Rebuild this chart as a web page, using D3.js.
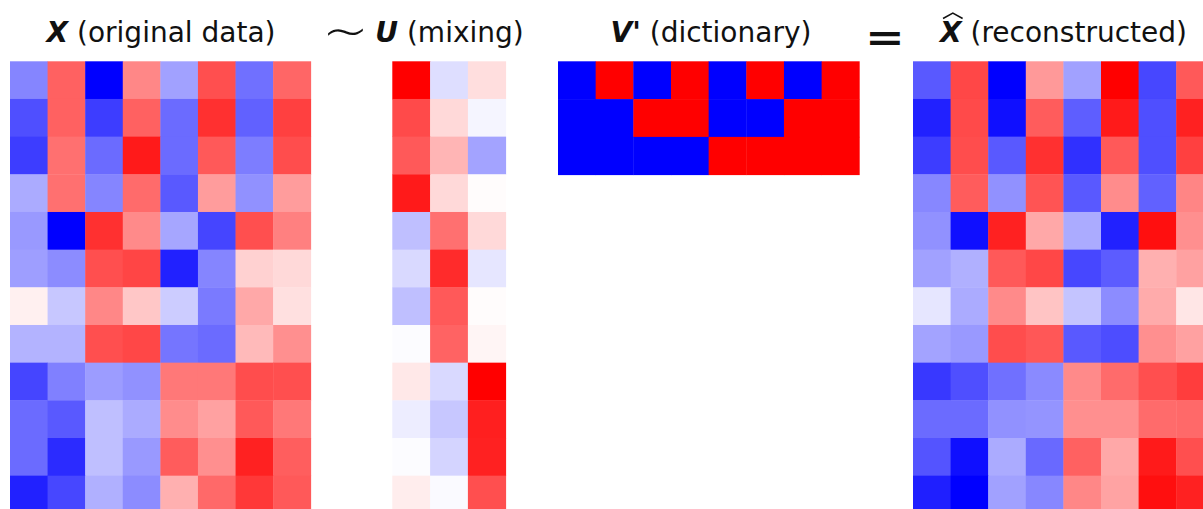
<!DOCTYPE html>
<html><head><meta charset="utf-8">
<script src="https://cdn.jsdelivr.net/npm/d3@7"></script>
<style>body{margin:0;background:#fff}svg{display:block}</style>
</head><body>
<script>
// values in [-1, 1], bwr colormap
const X = [
  [-0.48, 0.62, -1.00, 0.47, -0.37, 0.69, -0.56, 0.60],
  [-0.69, 0.62, -0.76, 0.62, -0.58, 0.81, -0.62, 0.75],
  [-0.76, 0.56, -0.58, 0.90, -0.58, 0.65, -0.51, 0.70],
  [-0.33, 0.56, -0.48, 0.58, -0.65, 0.39, -0.43, 0.39],
  [-0.40, -1.00, 0.81, 0.46, -0.35, -0.73, 0.69, 0.50],
  [-0.38, -0.45, 0.69, 0.73, -0.87, -0.48, 0.18, 0.15],
  [0.06, -0.22, 0.47, 0.22, -0.20, -0.52, 0.34, 0.12],
  [-0.30, -0.30, 0.69, 0.72, -0.54, -0.58, 0.27, 0.44],
  [-0.73, -0.50, -0.39, -0.43, 0.53, 0.53, 0.70, 0.69],
  [-0.58, -0.65, -0.25, -0.33, 0.45, 0.37, 0.65, 0.53],
  [-0.58, -0.83, -0.25, -0.40, 0.64, 0.44, 0.87, 0.63],
  [-0.87, -0.72, -0.31, -0.45, 0.31, 0.59, 0.78, 0.65]
];
const U = [
  [1.00, -0.13, 0.13],
  [0.71, 0.15, -0.04],
  [0.65, 0.29, -0.36],
  [0.90, 0.15, 0.01],
  [-0.25, 0.56, 0.15],
  [-0.15, 0.83, -0.10],
  [-0.25, 0.65, 0.01],
  [-0.01, 0.61, 0.04],
  [0.09, -0.15, 1.00],
  [-0.07, -0.22, 0.88],
  [-0.01, -0.17, 0.87],
  [0.07, -0.02, 0.69]
];
const V = [
  [-1, 1, -1, 1, -1, 1, -1, 1],
  [-1, -1, 1, 1, -1, -1, 1, 1],
  [-1, -1, -1, -1, 1, 1, 1, 1]
];
const XHAT = [
  [-0.65, 0.72, -1.00, 0.40, -0.37, 1.00, -0.72, 0.65],
  [-0.87, 0.71, -0.94, 0.64, -0.63, 0.90, -0.69, 0.87],
  [-0.76, 0.70, -0.65, 0.81, -0.81, 0.65, -0.69, 0.75],
  [-0.47, 0.64, -0.43, 0.67, -0.65, 0.45, -0.62, 0.48],
  [-0.43, -0.94, 0.87, 0.34, -0.33, -0.87, 0.94, 0.44],
  [-0.37, -0.31, 0.65, 0.72, -0.72, -0.64, 0.31, 0.37],
  [-0.10, -0.33, 0.46, 0.23, -0.23, -0.45, 0.33, 0.10],
  [-0.36, -0.40, 0.70, 0.66, -0.65, -0.70, 0.44, 0.37],
  [-0.78, -0.69, -0.56, -0.46, 0.46, 0.58, 0.69, 0.76],
  [-0.58, -0.58, -0.43, -0.42, 0.44, 0.44, 0.58, 0.59],
  [-0.67, -0.94, -0.33, -0.59, 0.62, 0.34, 0.90, 0.69],
  [-0.88, -1.00, -0.37, -0.47, 0.47, 0.36, 0.94, 0.87]
];
const titles = [
  {sym: "X", rest: " (original data)", cx: 161},
  {sym: "U", rest: " (mixing)", cx: 449.5},
  {sym: "V'", rest: " (dictionary)", cx: 711},
  {sym: "X", rest: " (reconstructed)", cx: 1063.5, hat: true}
];

const W = 1203, H = 509;
const svg = d3.select("body").append("svg").attr("width", W).attr("height", H);
const color = d3.scaleLinear().domain([-1, 0, 1]).range(["#0000ff", "#ffffff", "#ff0000"]).clamp(true);
const top0 = 61.3;

function heatmap(data, x0, cw, ch) {
  const rows = data.length, cols = data[0].length;
  const xs = d3.scaleBand().domain(d3.range(cols)).range([x0, x0 + cols * cw]);
  const ys = d3.scaleBand().domain(d3.range(rows)).range([top0, top0 + rows * ch]);
  const g = svg.append("g");
  data.forEach((row, i) => row.forEach((v, j) => {
    g.append("rect")
      .attr("x", xs(j)).attr("y", ys(i))
      .attr("width", xs.bandwidth() + 0.4).attr("height", ys.bandwidth() + 0.4)
      .attr("fill", color(v));
  }));
}
heatmap(X, 10, 37.59, 37.67);
heatmap(U, 392.3, 37.8, 37.67);
heatmap(V, 558, 37.66, 37.8);
heatmap(XHAT, 913, 37.6, 37.67);

const font = "'DejaVu Sans', sans-serif";
titles.forEach(t => {
  const txt = svg.append("text")
    .attr("x", t.cx).attr("y", 41.5)
    .attr("text-anchor", "middle")
    .attr("font-family", font).attr("font-size", 28).attr("fill", "#111");
  txt.append("tspan").attr("font-weight", "bold").attr("font-style", "italic").text(t.sym);
  txt.append("tspan").text(t.rest);
  if (t.hat) {
    const n = txt.node();
    const b0 = n.getExtentOfChar(0);
    const x1 = b0.x + 3, x2 = b0.x + b0.width + 1, yb = 18.5;
    svg.append("path")
      .attr("d", `M${x1},${yb} L${(x1 + x2) / 2},${yb - 5.5} L${x2},${yb}`)
      .attr("fill", "none").attr("stroke", "#111").attr("stroke-width", 1.5);
  }
});
svg.append("text").attr("transform", "translate(345.5,50.5) scale(1.35,1)").attr("text-anchor", "middle")
  .attr("font-family", "'DejaVu Sans', sans-serif").attr("font-weight", 200)
  .attr("font-size", 54).attr("fill", "#111").text("∼");
svg.append("text").attr("transform", "translate(885,50) scale(1.25,1)").attr("text-anchor", "middle")
  .attr("font-family", "'DejaVu Sans', sans-serif").attr("font-weight", "bold").attr("font-size", 38).attr("fill", "#111").text("=");
</script>
</body></html>
